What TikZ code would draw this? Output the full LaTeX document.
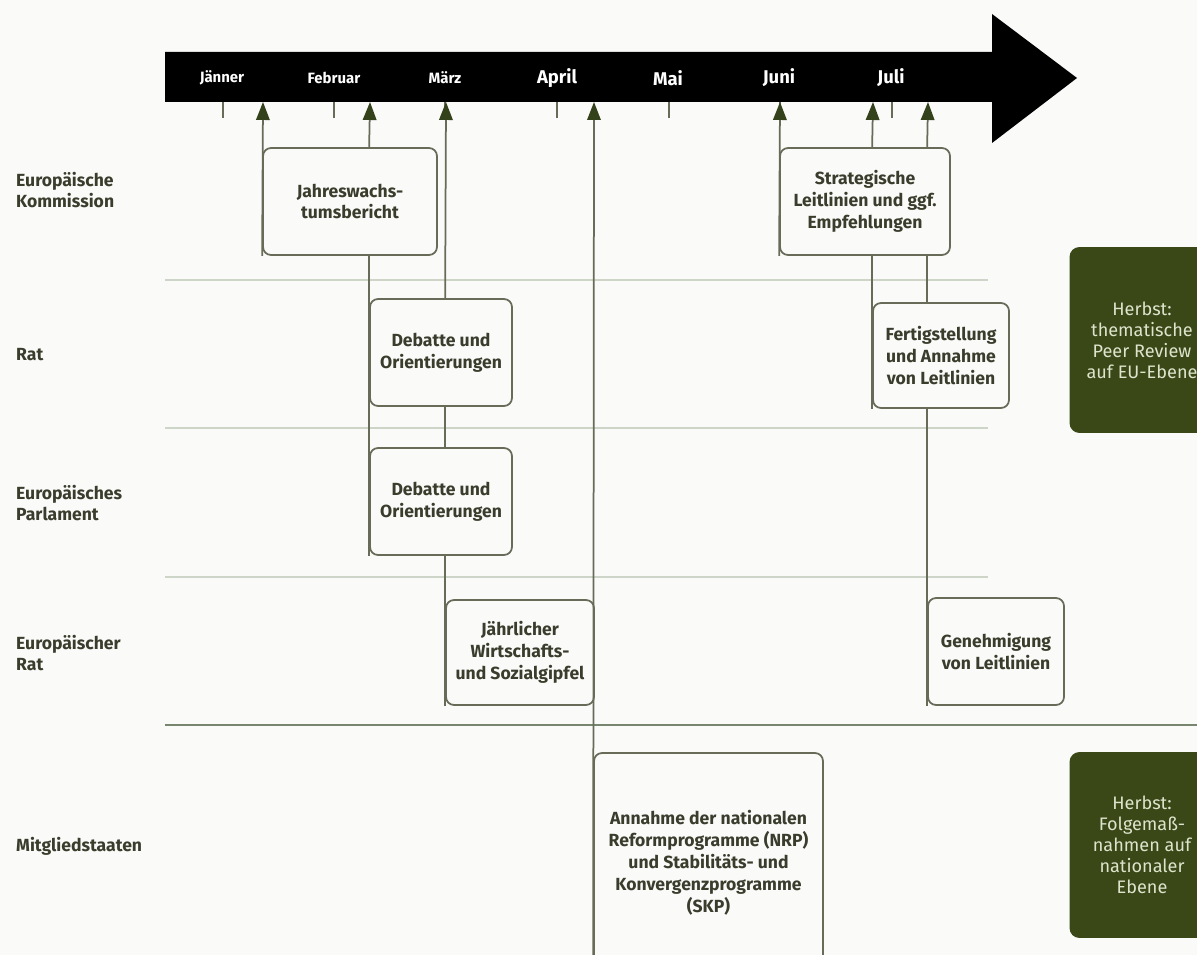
\documentclass[tikz,border=0pt]{standalone}
\usepackage{fontspec}
\setmainfont{Fira Sans}
\usetikzlibrary{arrows.meta}

\definecolor{bgcol}{RGB}{250,250,249}
\definecolor{boxcol}{RGB}{104,107,88}
\definecolor{tipcol}{RGB}{52,66,28}
\definecolor{txtcol}{RGB}{58,60,44}
\definecolor{lanecol}{RGB}{205,212,200}
\definecolor{basecol}{RGB}{120,134,112}
\definecolor{herbstgreen}{RGB}{58,72,24}
\definecolor{herbsttxt}{RGB}{222,228,204}

\tikzset{
  box/.style={draw=boxcol, line width=0.035cm, rounded corners=0.16cm, fill=bgcol,
    align=center, text=txtcol, inner sep=0pt, font=\bfseries\fontsize{10}{12.5}\selectfont},
  link/.style={draw=boxcol, line width=0.035cm},
  uparrow/.style={link, -{Triangle[width=0.27cm,length=0.36cm,color=tipcol]}},
  lane/.style={draw=lanecol, line width=0.025cm},
  actor/.style={anchor=west, align=left, text=txtcol, font=\bfseries\fontsize{10}{11.5}\selectfont},
  herbst/.style={fill=herbstgreen, rounded corners=0.2cm, text=herbsttxt, align=center,
    minimum width=2.9cm, minimum height=3.72cm, font=\fontsize{10.3}{12}\selectfont},
  monthsmall/.style={text=white, font=\bfseries\fontsize{8.5}{10}\selectfont},
  monthbig/.style={text=white, font=\bfseries\fontsize{10.5}{12}\selectfont}
}

\begin{document}
\begin{tikzpicture}[x=0.02cm,y=-0.02cm]
  \useasboundingbox (0,0) rectangle (1197,955);
  \clip (0,0) rectangle (1197,955);
  \fill[bgcol] (0,0) rectangle (1197,955);

  % timeline
  \fill[black] (165,52) -- (992,52) -- (992,14) -- (1077,78) -- (992,143)
    -- (992,102) -- (165,102) -- cycle;
  \foreach \x in {223,334,445,557,669,780,892}
    \draw[link] (\x,102) -- (\x,118);
  \node[monthsmall] (mJan) at (222,78) {Jänner};
  \node[monthsmall] (mFeb) at (334,78) {Februar};
  \node[monthsmall] (mMar) at (445,78) {März};
  \node[monthbig] (mApr) at (557,78) {April};
  \node[monthbig] (mMai) at (668,78) {Mai};
  \node[monthbig] (mJun) at (779,78) {Juni};
  \node[monthbig] (mJul) at (891,78) {Juli};

  % arrow tips on the bar
  \coordinate (t1) at (263,102);
  \coordinate (t2) at (370,102);
  \coordinate (t3) at (446,102);
  \coordinate (t4) at (594,102);
  \coordinate (t5) at (780,102);
  \coordinate (t6) at (873,102);
  \coordinate (t7) at (928,102);

  % lanes
  \draw[lane] (165,280) -- (988,280);
  \draw[lane] (165,428) -- (988,428);
  \draw[lane] (165,577) -- (988,577);
  \draw[draw=basecol, line width=0.04cm] (165,725) -- (1197,725);

  % actors
  \node[actor] (kom) at (10,190) {Europäische\\Kommission};
  \node[actor] (rat) at (10,355) {Rat};
  \node[actor] (ep) at (10,503) {Europäisches\\Parlament};
  \node[actor] (er) at (10,653) {Europäischer\\Rat};
  \node[actor] (ms) at (10,846) {Mitgliedstaaten};

  % steps
  \node[box, minimum width=3.48cm, minimum height=2.14cm] (jwb) at (350,201.5)
    {Jahreswachs-\\tumsbericht};
  \node[box, minimum width=2.84cm, minimum height=2.14cm] (deb1) at (441,352.5)
    {Debatte und\\Orientierungen};
  \node[box, minimum width=2.84cm, minimum height=2.14cm] (deb2) at (441,501.5)
    {Debatte und\\Orientierungen};
  \node[box, minimum width=2.96cm, minimum height=2.1cm] (jws) at (520,652.5)
    {Jährlicher\\Wirtschafts-\\und Sozialgipfel};
  \node[box, minimum width=4.58cm, minimum height=4.4cm] (nrp) at (708.5,863)
    {Annahme der nationalen\\Reformprogramme (NRP)\\und Stabilitäts- und\\Konvergenzprogramme\\(SKP)};
  \node[box, minimum width=3.4cm, minimum height=2.14cm] (sll) at (865,201.5)
    {Strategische\\Leitlinien und ggf.\\Empfehlungen};
  \node[box, minimum width=2.72cm, minimum height=2.1cm] (fan) at (941,355.5)
    {Fertigstellung\\und Annahme\\von Leitlinien};
  \node[box, minimum width=2.72cm, minimum height=2.14cm] (gen) at (996,651.5)
    {Genehmigung\\von Leitlinien};

  % autumn
  \node[herbst] (peer) at (1142,340)
    {Herbst:\\thematische\\Peer Review\\auf EU-Ebene};
  \node[herbst] (folge) at (1142,845)
    {Herbst:\\Folgemaß-\\nahmen auf\\nationaler\\Ebene};

  % links
  \draw[uparrow] (jwb.south west) -- (t1);
  \draw[uparrow] (jwb.north -| deb1.west) -- (t2);
  \draw[link] (jwb.south -| deb1.west) -- (deb2.south west);
  \draw[uparrow] (deb1.north -| jws.west) -- (t3);
  \draw[link] (deb1.south -| jws.west) -- (deb2.north -| jws.west);
  \draw[link] (deb2.south -| jws.west) -- (jws.south west);
  \draw[uparrow] (nrp.south west) -- (t4);
  \draw[uparrow] (sll.south west) -- (t5);
  \draw[uparrow] (sll.north -| fan.west) -- (t6);
  \draw[link] (sll.south -| fan.west) -- (fan.south west);
  \draw[uparrow] (sll.north -| gen.west) -- (t7);
  \draw[link] (sll.south -| gen.west) -- (fan.north -| gen.west);
  \draw[link] (fan.south -| gen.west) -- (gen.south west);
\end{tikzpicture}
\end{document}
